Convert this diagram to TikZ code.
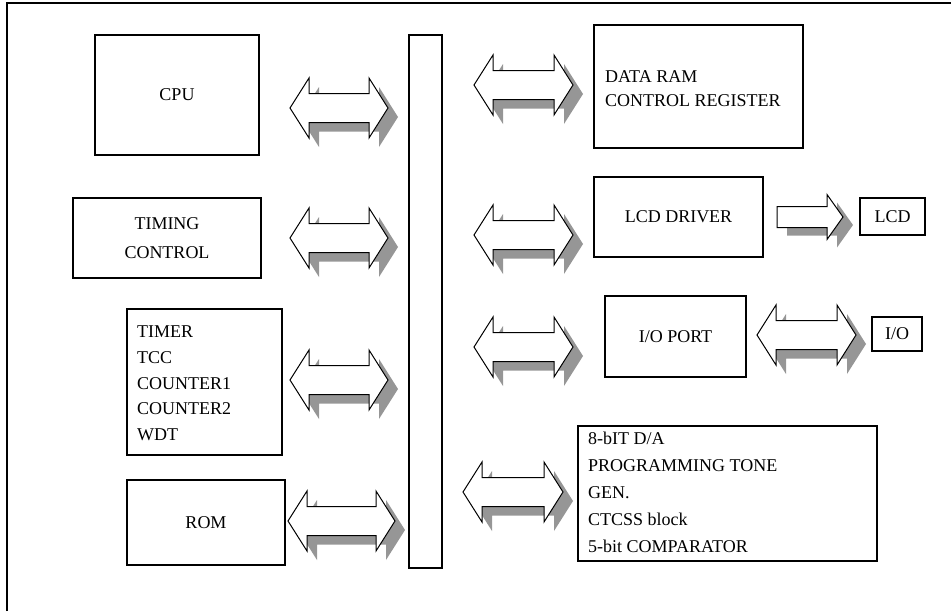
\documentclass[tikz,border=0pt]{standalone}
\usepackage{fontspec}
\setmainfont{Liberation Serif}
\definecolor{shadowgray}{RGB}{150,150,150}
\tikzset{
  box/.style={draw, line width=1.2pt, fill=white, inner sep=0pt},
  lbl/.style={inner sep=0pt, font=\fontsize{18}{26}\selectfont},
  arrowbody/.style={draw=black, line width=1pt, fill=white, line join=miter},
  arrowshadow/.style={fill=shadowgray, draw=none},
  pics/dbl/.style={code={
    \fill[arrowshadow, shift={(10,9)}] (0,0) -- (19,-30) -- (19,-14.5) -- ({#1-19},-14.5) -- ({#1-19},-30) -- (#1,0) -- ({#1-19},30) -- ({#1-19},14.5) -- (19,14.5) -- (19,30) -- cycle;
    \path[arrowbody] (0,0) -- (19,-30) -- (19,-14.5) -- ({#1-19},-14.5) -- ({#1-19},-30) -- (#1,0) -- ({#1-19},30) -- ({#1-19},14.5) -- (19,14.5) -- (19,30) -- cycle;
  }},
  pics/sgl/.style={code={
    \fill[arrowshadow, shift={(10,8)}] (0,-10.5) -- ({#1-16},-10.5) -- ({#1-16},-22.5) -- (#1,0) -- ({#1-16},22.5) -- ({#1-16},10.5) -- (0,10.5) -- cycle;
    \path[arrowbody] (0,-10.5) -- ({#1-16},-10.5) -- ({#1-16},-22.5) -- (#1,0) -- ({#1-16},22.5) -- ({#1-16},10.5) -- (0,10.5) -- cycle;
  }},
}
\begin{document}
\begin{tikzpicture}[x=1pt,y=-1pt]
\useasboundingbox (0,0) rectangle (951,611);
% outer frame
\coordinate (fbl) at (7,611);
\coordinate (ftl) at (7,3);
\coordinate (ftr) at (951,3);
\draw[line width=1.3pt] (fbl) -- (ftl) -- (ftr);

% arrows
\pic (a1) at (290,108) {dbl=98};
\pic (a2) at (290,238) {dbl=98};
\pic (a3) at (290,380) {dbl=98};
\pic (a4) at (288,521) {dbl=107};
\pic (b1) at (474,85) {dbl=99};
\pic (b2) at (474,235) {dbl=99};
\pic (b3) at (474,347) {dbl=99};
\pic (b4) at (463,492) {dbl=100};
\pic (c1) at (757,335) {dbl=99};
\pic (c2) at (777,217) {sgl=66};

% bus
\node[box, minimum width=33, minimum height=533] (bus) at (425.5,301.5) {};

% left boxes
\node[box, minimum width=164, minimum height=120] (cpu) at (177,95) {};
\node[lbl] (cput) at (cpu.center) {CPU};
\node[box, minimum width=188, minimum height=80] (timing) at (167,238) {};
\node[lbl, align=center, font=\fontsize{18}{29}\selectfont] (timingt) at (timing.center) {TIMING\\CONTROL};
\node[box, minimum width=155, minimum height=146] (timer) at (204.5,382) {};
\node[lbl, anchor=base west] (t1) at (137,337) {TIMER};
\node[lbl, anchor=base west] (t2) at (137,363) {TCC};
\node[lbl, anchor=base west] (t3) at (137,389) {COUNTER1};
\node[lbl, anchor=base west] (t4) at (137,414) {COUNTER2};
\node[lbl, anchor=base west] (t5) at (137,440) {WDT};
\node[box, minimum width=158, minimum height=85] (rom) at (206,522.5) {};
\node[lbl] (romt) at (rom.center) {ROM};

% right boxes
\node[box, minimum width=209, minimum height=123] (dataram) at (698.5,86.5) {};
\node[lbl, anchor=base west] (d1) at (605,82) {DATA RAM};
\node[lbl, anchor=base west] (d2) at (605,106) {CONTROL REGISTER};
\node[box, minimum width=169, minimum height=80] (lcddrv) at (678.5,217) {};
\node[lbl] (lcddrvt) at (lcddrv.center) {LCD DRIVER};
\node[box, minimum width=65, minimum height=37] (lcd) at (892.5,216.5) {};
\node[lbl] (lcdt) at (lcd.center) {LCD};
\node[box, minimum width=141, minimum height=81] (ioport) at (675.5,336.5) {};
\node[lbl] (ioportt) at (ioport.center) {I/O PORT};
\node[box, minimum width=50, minimum height=34] (io) at (897,334) {};
\node[lbl] (iot) at (io.center) {I/O};
\node[box, minimum width=299, minimum height=135] (dac) at (727.5,493.5) {};
\node[lbl, anchor=base west] (e1) at (588,444) {8-bIT D/A};
\node[lbl, anchor=base west] (e2) at (588,471) {PROGRAMMING TONE};
\node[lbl, anchor=base west] (e3) at (588,498) {GEN.};
\node[lbl, anchor=base west] (e4) at (588,525) {CTCSS block};
\node[lbl, anchor=base west] (e5) at (588,552) {5-bit COMPARATOR};
\end{tikzpicture}
\end{document}
